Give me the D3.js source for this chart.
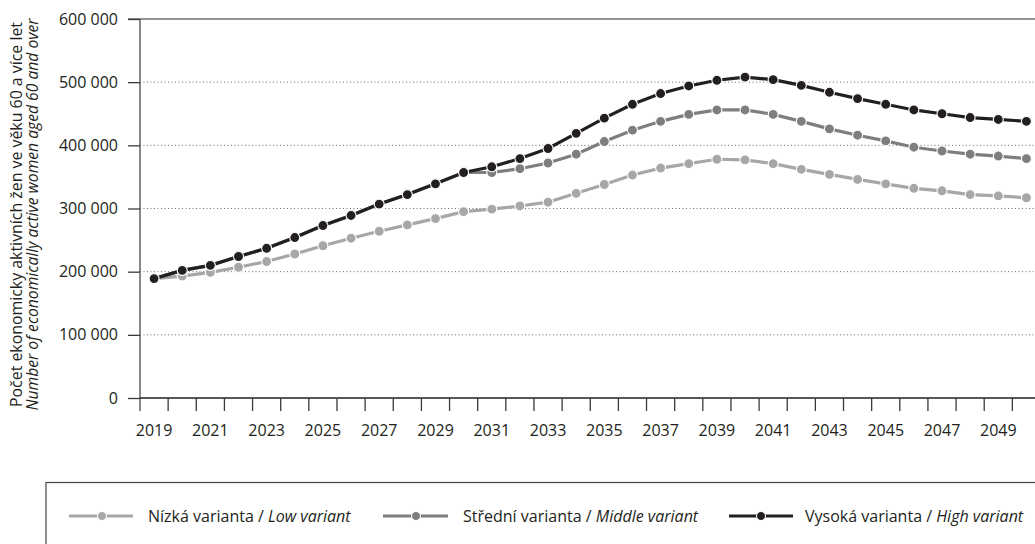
<!DOCTYPE html>
<html><head><meta charset="utf-8">
<script src="https://cdn.jsdelivr.net/npm/d3@7"></script>
<style>
html,body{margin:0;padding:0;background:#fff;}
svg{display:block;font-family:"Open Sans",sans-serif;}
</style></head>
<body>
<svg id="chart" width="1035" height="544"></svg>
<script>
const years = [2019,2020,2021,2022,2023,2024,2025,2026,2027,2028,2029,2030,2031,2032,2033,2034,2035,2036,2037,2038,2039,2040,2041,2042,2043,2044,2045,2046,2047,2048,2049,2050];
const lowValues = [189000,193000,199000,207000,216000,228000,241000,253000,264000,274000,284000,295000,299000,304000,310000,324000,338000,353000,364000,371000,378000,377000,371000,362000,354000,346000,339000,332000,328000,322000,320000,317000];
const middleValues = [189000,202000,210000,224000,237000,254000,273000,289000,307000,322000,339000,357000,357000,363000,372000,386000,406000,424000,438000,449000,456000,456000,449000,438000,426000,416000,407000,397000,391000,386000,383000,379000];
const highValues = [189000,202000,210000,224000,237000,254000,273000,289000,307000,322000,339000,357000,366000,379000,395000,419000,443000,465000,482000,494000,503000,508000,504000,495000,484000,474000,465000,456000,450000,444000,441000,438000];
const yTicks = [0,100000,200000,300000,400000,500000,600000];
const xLabelYears = [2019,2021,2023,2025,2027,2029,2031,2033,2035,2037,2039,2041,2043,2045,2047,2049];
const seriesNames = [["Nízká varianta / ","Low variant"],["Střední varianta / ","Middle variant"],["Vysoká varianta / ","High variant"]];
const seriesColors = ["#a7a7a9","#7e7e81","#231f20"];

const svg = d3.select("#chart");
const pLeft = 140, pRight = 1040.5, pTop = 19, pBottom = 398;
const x = d3.scaleBand().domain(years).range([pLeft, pRight]).padding(0);
const y = d3.scaleLinear().domain([0, 600000]).range([pBottom, pTop]);
const cx = d => x(d) + x.bandwidth() / 2;
const fmt = v => d3.format(",")(v).replace(/,/g, " ");

// gridlines
svg.append("g").selectAll("line").data(yTicks.filter(t => t > 0 && t < 600000)).join("line")
  .attr("x1", pLeft).attr("x2", 1035).attr("y1", d => y(d)).attr("y2", d => y(d))
  .attr("stroke", "#6d6d6d").attr("stroke-width", 1).attr("stroke-dasharray", "1,2.5");
// top line
svg.append("line").attr("x1", 128).attr("x2", 1035).attr("y1", y(600000)).attr("y2", y(600000))
  .attr("stroke", "#707070").attr("stroke-width", 1.4);

// y axis
const yAxis = svg.append("g").attr("transform", `translate(${pLeft},0)`)
  .call(d3.axisLeft(y).tickValues(yTicks).tickFormat(fmt).tickSize(12).tickPadding(10));
yAxis.select(".domain").remove();
yAxis.selectAll(".tick line").attr("stroke", "#3a3a3a").attr("stroke-width", 1.3);
yAxis.selectAll(".tick text").attr("font-size", "16px").attr("fill", "#231f20").attr("font-family", "Open Sans");
svg.append("line").attr("x1", pLeft).attr("x2", pLeft).attr("y1", pTop).attr("y2", pBottom + 13)
  .attr("stroke", "#555").attr("stroke-width", 1.4);

// x axis
const xAxis = svg.append("g").attr("transform", `translate(0,${pBottom})`)
  .call(d3.axisBottom(x).tickValues(xLabelYears).tickSize(0).tickPadding(27));
xAxis.select(".domain").remove();
xAxis.selectAll(".tick text").attr("font-size", "16px").attr("fill", "#231f20").attr("font-family", "Open Sans");
svg.append("line").attr("x1", pLeft).attr("x2", 1035).attr("y1", pBottom).attr("y2", pBottom)
  .attr("stroke", "#231f20").attr("stroke-width", 1.4);
svg.append("g").selectAll("line").data(years.slice(1)).join("line")
  .attr("x1", d => x(d)).attr("x2", d => x(d)).attr("y1", pBottom).attr("y2", pBottom + 13)
  .attr("stroke", "#3a3a3a").attr("stroke-width", 1.3);

// y title
const yt = svg.append("text").attr("transform", `translate(22,${(pTop + pBottom) / 2 + 6}) rotate(-90)`)
  .attr("text-anchor", "middle").attr("font-size", "16px").attr("fill", "#231f20");
yt.append("tspan").attr("x", 0).attr("dy", 0).attr("textLength", 385).attr("lengthAdjust", "spacingAndGlyphs")
  .text("Počet ekonomicky aktivních žen ve věku 60 a více let");
yt.append("tspan").attr("x", 0).attr("dy", 16).attr("font-style", "italic").attr("textLength", 392).attr("lengthAdjust", "spacingAndGlyphs")
  .text("Number of economically active women aged 60 and over");

// series
const allSeries = [lowValues, middleValues, highValues];
const line = d3.line().x((d, i) => cx(years[i])).y(d => y(d));
allSeries.forEach((vals, si) => {
  const g = svg.append("g");
  g.append("path").datum(vals).attr("d", line).attr("fill", "none")
    .attr("stroke", seriesColors[si]).attr("stroke-width", 3.2);
  g.selectAll("circle").data(vals).join("circle")
    .attr("cx", (d, i) => cx(years[i])).attr("cy", d => y(d)).attr("r", 5)
    .attr("fill", seriesColors[si]).attr("stroke", "#fff").attr("stroke-width", 1.1);
});

// legend
svg.append("rect").attr("x", 46).attr("y", 482.5).attr("width", 1100).attr("height", 100)
  .attr("fill", "none").attr("stroke", "#444").attr("stroke-width", 1.2);
const legendPos = [{s: 69, m: 102, e: 133, t: 148}, {s: 383, m: 416, e: 448, t: 463}, {s: 729, m: 761, e: 793, t: 805}];
const ly = 516;
legendPos.forEach((p, i) => {
  const g = svg.append("g");
  g.append("line").attr("x1", p.s).attr("x2", p.e).attr("y1", ly).attr("y2", ly)
    .attr("stroke", seriesColors[i]).attr("stroke-width", 3);
  g.append("circle").attr("cx", p.m).attr("cy", ly).attr("r", 4.5).attr("fill", seriesColors[i])
    .attr("stroke", "#fff").attr("stroke-width", 1);
  const t = g.append("text").attr("x", p.t).attr("y", ly + 5.5).attr("font-size", "16px").attr("fill", "#231f20");
  t.append("tspan").text(seriesNames[i][0]);
  t.append("tspan").attr("font-style", "italic").text(seriesNames[i][1]);
});
</script>
</body></html>
